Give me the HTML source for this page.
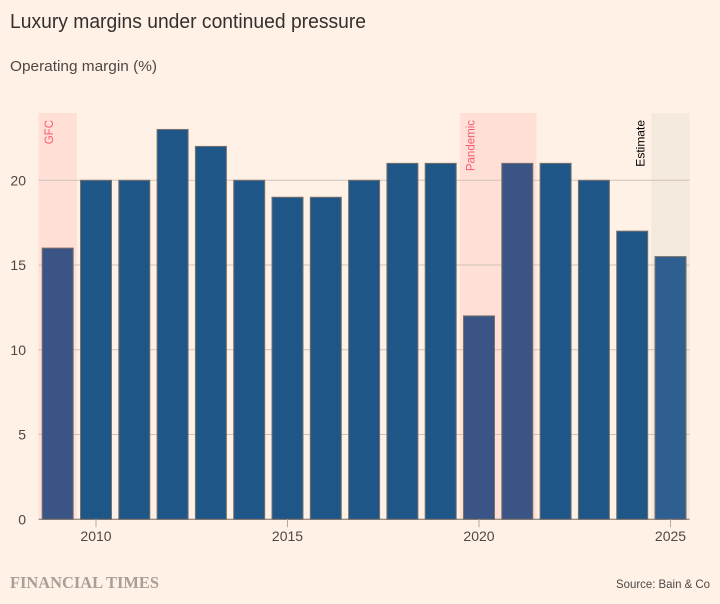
<!DOCTYPE html>
<html lang="en">
<head>
<meta charset="utf-8">
<title>Luxury margins under continued pressure</title>
<style>
html,body{margin:0;padding:0;background:#fff1e5}
svg{display:block}
text{font-family:"Liberation Sans",sans-serif}
</style>
</head>
<body>
<svg id="chart" xmlns="http://www.w3.org/2000/svg" width="720" height="604" viewBox="0 0 720 604">
<rect width="720" height="604" fill="#fff1e5"/>
<text x="10" y="28" font-size="20" fill="#33302e" textLength="356" lengthAdjust="spacingAndGlyphs">Luxury margins under continued pressure</text>
<text x="10" y="71" font-size="15" fill="#4d4845" textLength="147" lengthAdjust="spacingAndGlyphs">Operating margin (%)</text>
<g id="bands"></g>
<g id="grid"></g>
<g id="bars"></g>
<g id="axis"></g>
<g id="notes"></g>
<text x="10" y="588" font-size="17" font-weight="bold" fill="#a89f98" style="font-family:'Liberation Serif',serif" textLength="149" lengthAdjust="spacingAndGlyphs">FINANCIAL TIMES</text>
<text x="616" y="588" font-size="12" fill="#4d4845" textLength="94" lengthAdjust="spacingAndGlyphs">Source: Bain &amp; Co</text>
</svg>
<script>
const years = [2009, 2010, 2011, 2012, 2013, 2014, 2015, 2016, 2017, 2018, 2019, 2020, 2021, 2022, 2023, 2024, 2025];
const margins = [16, 20, 20, 23, 22, 20, 19, 19, 20, 21, 21, 12, 21, 21, 20, 17, 15.5];
const yTicks = [0, 5, 10, 15, 20];
const xTicks = [2010, 2015, 2020, 2025];
const crisisStart = [2009, 2020];
const crisisEnd = [2009, 2021];
const crisisLabels = ['GFC', 'Pandemic'];
const estimateYears = [2025];

const NS = 'http://www.w3.org/2000/svg';
const x = function (year) { return 96 + (year - 2010) * 38.3; };
const y = function (value) { return 519.3 - value * 16.95; };
const barWidth = 31;
const plotTop = 113;
const plotLeft = x(years[0] - 0.5);
const plotRight = x(years[years.length - 1] + 0.5);

function make(tag, parent, props, text) {
  const el = document.createElementNS(NS, tag);
  for (const k in props) el.setAttribute(k, props[k]);
  if (text !== undefined) el.textContent = text;
  document.getElementById(parent).appendChild(el);
  return el;
}
function inCrisis(year) {
  return crisisStart.some(function (s, i) { return year >= s && year <= crisisEnd[i]; });
}

crisisStart.forEach(function (s, i) {
  const band = make('rect', 'bands', {
    x: x(s - 0.5), y: plotTop, width: x(crisisEnd[i] + 0.5) - x(s - 0.5), height: y(0) - plotTop, fill: '#ffdfd6'
  });
  
  
  const lx = x(s - 0.5) + 14.5;
  const label = make('text', 'notes', {
    transform: 'translate(' + lx + ',' + (plotTop + 7) + ') rotate(-90)',
    'text-anchor': 'end', 'font-size': 11.5, fill: '#f9596e'
  }, crisisLabels[i]);
  
  
});

estimateYears.forEach(function (yr) {
  const band = make('rect', 'bands', {
    x: x(yr - 0.5), y: plotTop, width: 38.3, height: y(0) - plotTop, fill: '#f4e9dd'
  });
  
  
  const label = make('text', 'notes', {
    transform: 'translate(' + (x(yr - 0.5) - 7) + ',' + (plotTop + 7) + ') rotate(-90)',
    'text-anchor': 'end', 'font-size': 12, fill: '#000000'
  }, 'Estimate');
  
  
});

yTicks.forEach(function (t) {
  const line = make('line', 'grid', {
    x1: plotLeft, x2: plotRight, y1: y(t), y2: y(t),
    stroke: t === 0 ? '#9a928b' : '#cfc2b9', 'stroke-width': t === 0 ? 1.4 : 1
  });
  
  
  const lab = make('text', 'axis', {
    x: 26, y: y(t) + 5, 'text-anchor': 'end', 'font-size': 14, fill: '#4d4845'
  }, String(t));
  
  
});

xTicks.forEach(function (t) {
  const tick = make('line', 'axis', {
    x1: x(t), x2: x(t), y1: y(0), y2: y(0) + 8, stroke: '#b3aaa2', 'stroke-width': 1
  });
  
  
  const lab = make('text', 'axis', {
    x: x(t), y: 541, 'text-anchor': 'middle', 'font-size': 14, fill: '#4d4845'
  }, String(t));
  
  
});

years.forEach(function (yr, i) {
  let fill = '#1f5688';
  if (inCrisis(yr)) fill = '#3a5585';
  if (estimateYears.indexOf(yr) !== -1) fill = '#2f5f90';
  const bar = make('rect', 'bars', {
    x: x(yr) - barWidth / 2, y: y(margins[i]), width: barWidth, height: y(0) - y(margins[i]),
    fill: fill, stroke: '#7a716b', 'stroke-width': 1
  });
  
  
});
</script>
</body>
</html>
